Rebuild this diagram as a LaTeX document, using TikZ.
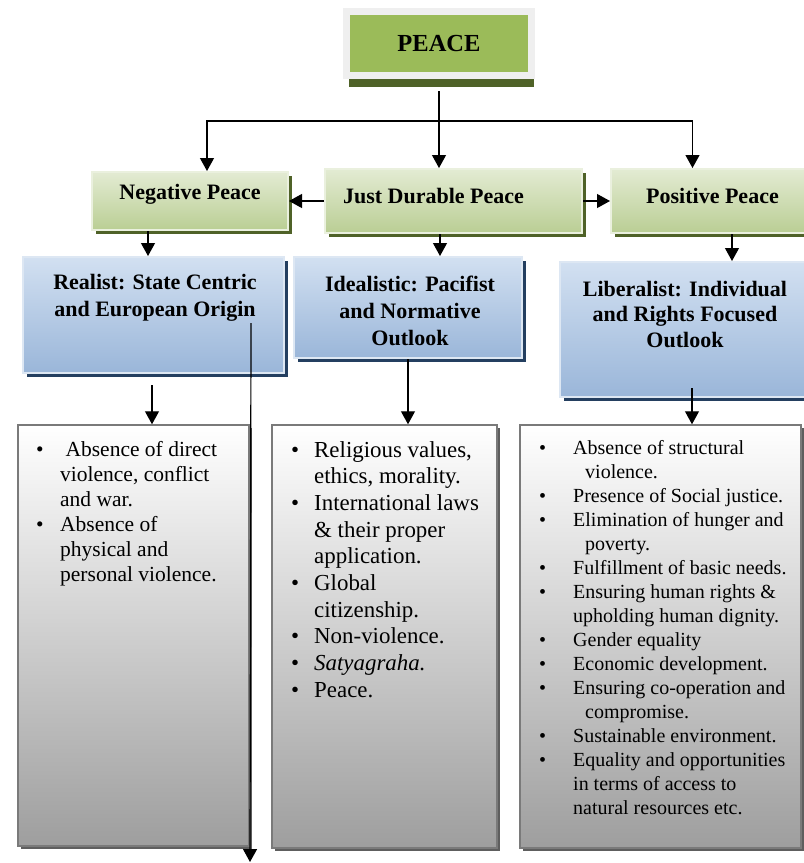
\documentclass[tikz,border=0pt]{standalone}
\usepackage{fontspec}
\setmainfont{Liberation Serif}
\usepackage{xcolor}
\usepackage{tikz}
\usetikzlibrary{arrows.meta, calc, positioning, shadows}
\definecolor{PeaceGreen}{HTML}{9BBB59}
\definecolor{Olive}{HTML}{4F6228}
\definecolor{FrameGrey}{HTML}{EFEFEF}
\definecolor{SageTop}{HTML}{E3EBD3}
\definecolor{SageBot}{HTML}{BACE94}
\definecolor{SageEdge}{HTML}{EAF0DE}
\definecolor{SkyTop}{HTML}{D2E0F1}
\definecolor{SkyBot}{HTML}{9AB6D9}
\definecolor{SkyEdge}{HTML}{DDE7F3}
\definecolor{Navy}{HTML}{243F60}
\definecolor{SlateEdge}{HTML}{7A7A7A}
\definecolor{SlateBot}{HTML}{9E9E9E}
\definecolor{SlateShadow}{HTML}{5E5E5E}
\newcommand{\listdot}[1]{\makebox[#1][l]{\textbullet}}
\tikzset{
  flow/.style={-{Triangle[length=13pt, width=14pt]}, line width=1.2pt, color=black},
  peacebox/.style={fill=PeaceGreen, draw=FrameGrey, line width=7pt, minimum width=185pt, minimum height=64pt,
    font=\fontsize{24.5}{28}\selectfont\bfseries, drop shadow={shadow xshift=2pt, shadow yshift=-11pt, fill=Olive, opacity=1}},
  greenbox/.style={top color=SageTop, bottom color=SageBot, draw=SageEdge, line width=2pt, inner sep=0pt,
    drop shadow={shadow xshift=4pt, shadow yshift=-4pt, fill=Olive, opacity=1}},
  bluebox/.style={top color=SkyTop, bottom color=SkyBot, draw=SkyEdge, line width=2pt, inner sep=0pt,
    drop shadow={shadow xshift=4pt, shadow yshift=-4pt, fill=Navy, opacity=1}},
  listbox/.style={top color=white, bottom color=SlateBot, draw=SlateEdge, line width=1.5pt, inner sep=0pt,
    drop shadow={shadow xshift=3pt, shadow yshift=-3pt, fill=SlateShadow, opacity=1}},
  heading/.style={font=\fontsize{22}{27}\selectfont\bfseries, align=center, inner sep=0pt},
  listtext/.style={align=left, inner sep=0pt, anchor=north west},
}
\begin{document}
\begin{tikzpicture}[x=1pt, y=-1pt]
  \useasboundingbox (0,0) rectangle (804,863);

  % Top box
  \node[peacebox] (peace) at (439,43.5) {PEACE};
  \coordinate (split) at (439,121);

  % Second row
  \node[greenbox, minimum width=196pt, minimum height=58pt] (neg) at (190,201) {};
  \node[greenbox, minimum width=257pt, minimum height=64pt] (just) at (453.5,201) {};
  \node[greenbox, minimum width=219pt, minimum height=64pt] (pos) at (720.5,201) {};
  \node[heading] (neg-t) at (190,194) {Negative Peace};
  \node[heading] (just-t) at (433.5,196) {Just Durable Peace};
  \node[heading] (pos-t) at (712.5,196) {Positive Peace};

  % Third row
  \node[bluebox, minimum width=261pt, minimum height=116pt] (real) at (153.5,315) {};
  \node[bluebox, minimum width=228pt, minimum height=101pt] (ideal) at (408,307.5) {};
  \node[bluebox, minimum width=255pt, minimum height=135pt] (lib) at (687.5,329.5) {};
  \node[heading] (real-t) at (155,298) {Realist: State Centric\\and European Origin};
  \node[heading] (ideal-t) at (410,311) {Idealistic: Pacifist\\and Normative\\Outlook};
  \node[heading, font=\fontsize{22}{25.5}\selectfont\bfseries] (lib-t) at (685,314) {Liberalist: Individual\\and Rights Focused\\Outlook};

  % Lists
  \node[listbox, minimum width=231pt, minimum height=421pt] (left) at (133.5,635.5) {};
  \node[listbox, minimum width=225pt, minimum height=423pt] (mid) at (384.5,636.5) {};
  \node[listbox, minimum width=281pt, minimum height=423pt] (right) at (660.5,636.5) {};

  \node[listtext, font=\rmfamily\fontsize{21.5}{25}\selectfont] (left-t) at (36,441)
    {\listdot{24pt}\ Absence of direct\\ \hspace*{24pt}violence, conflict\\ \hspace*{24pt}and war.\\
     \listdot{24pt}Absence of\\ \hspace*{24pt}physical and\\ \hspace*{24pt}personal violence.};
  \node[listtext, font=\rmfamily\fontsize{22.9}{26.7}\selectfont] (mid-t) at (291,441)
    {\listdot{23pt}Religious values,\\ \hspace*{23pt}ethics, morality.\\
     \listdot{23pt}International laws\\ \hspace*{23pt}\& their proper\\ \hspace*{23pt}application.\\
     \listdot{23pt}Global\\ \hspace*{23pt}citizenship.\\
     \listdot{23pt}Non-violence.\\
     \listdot{23pt}\textit{Satyagraha.}\\
     \listdot{23pt}Peace.};
  \node[listtext, font=\rmfamily\fontsize{20}{24}\selectfont] (right-t) at (539,440)
    {\listdot{34pt}Absence of structural\\ \hspace*{46pt}violence.\\
     \listdot{34pt}Presence of Social justice.\\
     \listdot{34pt}Elimination of hunger and\\ \hspace*{46pt}poverty.\\
     \listdot{34pt}Fulfillment of basic needs.\\
     \listdot{34pt}Ensuring human rights \&\\ \hspace*{34pt}upholding human dignity.\\
     \listdot{34pt}Gender equality\\
     \listdot{34pt}Economic development.\\
     \listdot{34pt}Ensuring co-operation and\\ \hspace*{46pt}compromise.\\
     \listdot{34pt}Sustainable environment.\\
     \listdot{34pt}Equality and opportunities\\ \hspace*{34pt}in terms of access to\\ \hspace*{34pt}natural resources etc.};

  % Connectors
  \draw[line width=1.2pt] ([yshift=-12pt]peace.south) -- (split);
  \draw[flow] (split) -| ([xshift=17pt]neg.north);
  \draw[flow] (split) -- (split |- just.north);
  \draw[flow] (split) -| ([xshift=-28pt]pos.north);
  \draw[flow] (just.west) -- (neg.east);
  \draw[flow] (just.east) -- (pos.west);

  \draw[flow] ([xshift=-42pt]neg.south) -- ([xshift=-42pt]neg.south |- real.north);
  \draw[flow] ([xshift=-13.5pt]just.south) -- ([xshift=-13.5pt]just.south |- ideal.north);
  \draw[flow] ([xshift=11.5pt]pos.south) -- ([xshift=11.5pt]pos.south |- lib.north);

  \draw[flow] ([xshift=-1.5pt, yshift=-11pt]real.south) -- ([xshift=-1.5pt]real.south |- left.north);
  \draw[flow] (ideal.south) -- (ideal.south |- mid.north);
  \draw[flow] ([xshift=4.5pt, yshift=10pt]lib.south) -- ([xshift=4.5pt]lib.south |- right.north);

  % Long drop line
  \coordinate (drop) at ([xshift=-34pt, yshift=-8pt]real.east);
  \coordinate (dropend) at (250,862);
  \draw[flow] (drop) -- (dropend);
\end{tikzpicture}
\end{document}
